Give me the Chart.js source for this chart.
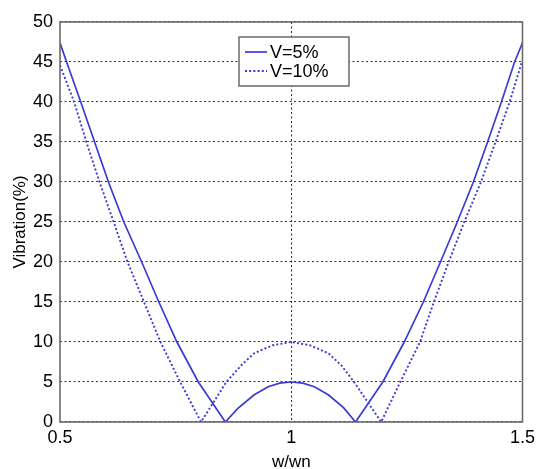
<!DOCTYPE html>
<html>
<head>
<meta charset="utf-8">
<script src="https://cdn.jsdelivr.net/npm/chart.js@4/dist/chart.umd.min.js"></script>
<style>
  html, body { margin: 0; padding: 0; background: #fff; }
  #wrap { width: 540px; height: 469px; position: relative; }
</style>
</head>
<body>
<div id="wrap"><canvas id="c" width="540" height="469"></canvas></div>
<script>
// ---- data ----
const seriesLabels = ['V=5%', 'V=10%'];

const xV5 = [0.5, 0.5143, 0.5449, 0.5748, 0.6047, 0.638, 0.6766, 0.7137, 0.7528, 0.7991, 0.8575,
             0.8846, 0.920, 0.950, 0.975, 1.0, 1.025, 1.050, 1.080, 1.113, 1.139,
             1.198, 1.2443, 1.2856, 1.3226, 1.359, 1.3938, 1.4245, 1.4544, 1.4829, 1.5];
const yV5 = [47.4, 45, 40, 35, 30, 25, 20, 15, 10, 5, 0,
             1.7, 3.4, 4.4, 4.85, 5.0, 4.85, 4.4, 3.4, 1.8, 0,
             5, 10, 15, 20, 25, 30, 35, 40, 45, 47.4];

const xV10 = [0.5, 0.5306, 0.557, 0.5855, 0.616, 0.646, 0.6816, 0.7172, 0.7599, 0.8049,
              0.8597, 0.892, 0.920, 0.960, 1.0, 1.040, 1.080, 1.108, 1.136, 1.1944,
              1.2357, 1.2784, 1.3084, 1.3404, 1.374, 1.4103, 1.4416, 1.4722, 1.4986, 1.5];
const yV10 = [44.6, 40, 35, 30, 25, 20, 15, 10, 5, 0,
              5, 7.1, 8.6, 9.6, 10, 9.6, 8.6, 7.1, 5, 0,
              5, 10, 15, 20, 25, 30, 35, 40, 45, 45.1];

const xTicks = [0.5, 1, 1.5];
const yTicks = [0, 5, 10, 15, 20, 25, 30, 35, 40, 45, 50];
const xTitle = 'w/wn';
const yTitle = 'Vibration(%)';

// ---- chart ----
const lineBlue = '#3a3ad6';
const FONT = '"Liberation Sans", Arial, sans-serif';

const pts = (xs, ys) => xs.map((x, i) => ({ x: x, y: ys[i] }));

const frame = {
  id: 'frame',
  afterDatasetsDraw(chart) {
    const a = chart.chartArea, ctx = chart.ctx;
    ctx.save();
    ctx.strokeStyle = '#6a6a6a';
    ctx.lineWidth = 1.6;
    ctx.strokeRect(a.left, a.top, a.right - a.left, a.bottom - a.top);
    ctx.restore();
  }
};

const boxLegend = {
  id: 'boxLegend',
  afterDraw(chart) {
    const ctx = chart.ctx;
    const bx = 239, by = 37, bw = 110, bh = 49;
    ctx.save();
    ctx.fillStyle = '#fff';
    ctx.fillRect(bx, by, bw, bh);
    ctx.strokeStyle = '#555';
    ctx.lineWidth = 1.3;
    ctx.strokeRect(bx, by, bw, bh);
    const rows = [52, 71];
    chart.data.datasets.forEach((ds, i) => {
      const y = rows[i];
      ctx.beginPath();
      ctx.strokeStyle = ds.borderColor;
      ctx.lineWidth = ds.borderWidth;
      ctx.setLineDash(ds.borderDash || []);
      ctx.moveTo(245, y);
      ctx.lineTo(267, y);
      ctx.stroke();
      ctx.setLineDash([]);
      ctx.fillStyle = '#000';
      ctx.font = '18px ' + FONT;
      ctx.textBaseline = 'middle';
      ctx.textAlign = 'left';
      ctx.fillText(ds.label, 270, y + 1);
    });
    ctx.restore();
  }
};

new Chart(document.getElementById('c'), {
  type: 'line',
  data: {
    datasets: [
      { label: seriesLabels[0], data: pts(xV5, yV5), borderColor: lineBlue, borderWidth: 1.7,
        pointRadius: 0, tension: 0, fill: false },
      { label: seriesLabels[1], data: pts(xV10, yV10), borderColor: lineBlue, borderWidth: 1.9,
        borderDash: [2, 2.2], pointRadius: 0, tension: 0, fill: false }
    ]
  },
  options: {
    responsive: false,
    animation: false,
    layout: { padding: { top: 22, right: 12, left: 0, bottom: 0 } },
    plugins: { legend: { display: false }, tooltip: { enabled: false } },
    scales: {
      x: {
        type: 'linear', min: 0.5, max: 1.5,
        afterBuildTicks: (s) => { s.ticks = xTicks.map(v => ({ value: v })); },
        afterFit: (s) => { s.height = 47; },
        ticks: { font: { family: FONT, size: 18 }, color: '#000', padding: 5, maxRotation: 0,
                 callback: (v) => String(v) },
        grid: { color: (c) => (c.tick && c.tick.value === 1) ? '#333' : 'rgba(0,0,0,0)',
                lineWidth: 1.1, drawTicks: false },
        border: { display: false, dash: [2, 2.5] },
        title: { display: true, text: xTitle, color: '#000',
                 font: { family: FONT, size: 17, lineHeight: 0.8 }, padding: { top: 0, bottom: 0 } }
      },
      y: {
        type: 'linear', min: 0, max: 50,
        afterBuildTicks: (s) => { s.ticks = yTicks.map(v => ({ value: v })); },
        afterFit: (s) => { s.width = 60; },
        ticks: { font: { family: FONT, size: 18 }, color: '#000', padding: 7,
                 callback: (v) => String(v) },
        grid: { color: '#333', lineWidth: 1.1, drawTicks: false },
        border: { display: false, dash: [2, 2.5] },
        title: { display: true, text: yTitle, color: '#000',
                 font: { family: FONT, size: 17, lineHeight: 1.2 }, padding: { top: 10, bottom: 0 } }
      }
    }
  },
  plugins: [frame, boxLegend]
});
</script>
</body>
</html>
